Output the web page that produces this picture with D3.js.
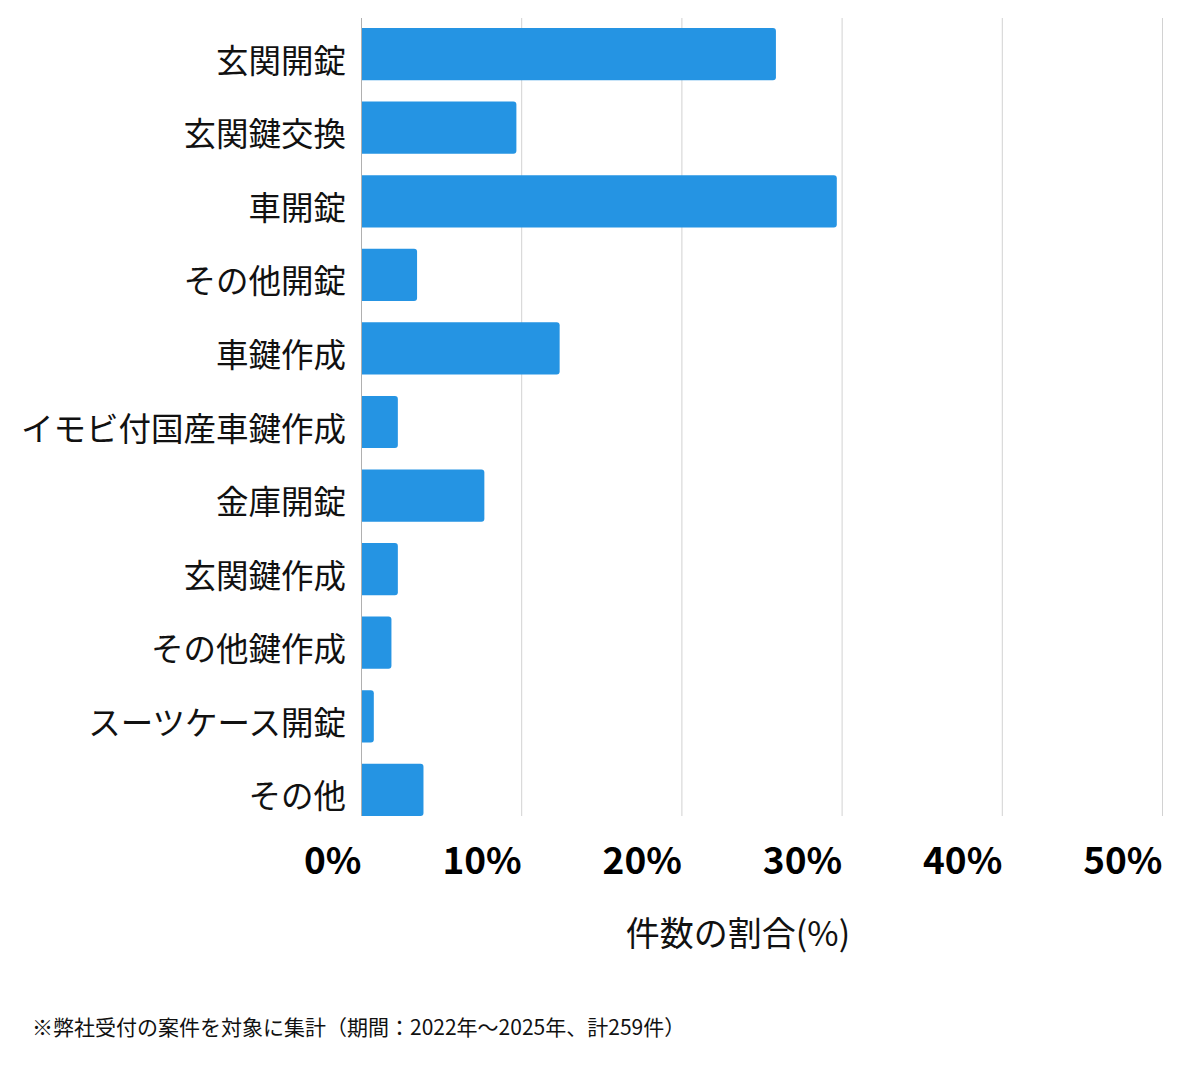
<!DOCTYPE html>
<html lang="ja">
<head>
    <meta charset="utf-8" />
    <title> 件数の割合 </title>
    <script src="https://cdn.jsdelivr.net/npm/d3@7"></script>
    <style>
        body { margin: 0px; background: #fff; }
        svg text { font-family: "Noto Sans CJK JP", "Noto Sans", sans-serif; }
    </style>
</head>
<body>

<div id="main-window">
    <svg class="chart" width="1200" height="1069"></svg>
</div>

<script>

    // 項目
    var categories = ['玄関開錠', '玄関鍵交換', '車開錠', 'その他開錠', '車鍵作成',
        'イモビ付国産車鍵作成', '金庫開錠', '玄関鍵作成', 'その他鍵作成', 'スーツケース開錠', 'その他'];

    // 件数の割合(%)
    var shares = [25.9, 9.7, 29.7, 3.5, 12.4, 2.3, 7.7, 2.3, 1.9, 0.8, 3.9];

    var tick_values = [0, 10, 20, 30, 40, 50];

    var axis_title = '件数の割合(%)';
    var footnote = '※弊社受付の案件を対象に集計（期間：2022年～2025年、計259件）';

    function main() {

        var svg = d3.select('#main-window .chart');

        var left = 361, right = 1162, top = 18, bottom = 816;

        var x = d3.scaleLinear()
                .domain([0, 50])
                .range([left, right]);

        var y = d3.scaleBand()
                .domain(categories)
                .range([top, bottom])
                .paddingInner(0.29)
                .paddingOuter(0.068)
                .align(1);

        //グリッド線
        svg.append('g')
                .attr('class', 'grid')
                .selectAll('line')
                .data(tick_values.slice(1))
                .enter().append('line')
                .attr('x1', function(d) { return x(d) + 0.5; })
                .attr('x2', function(d) { return x(d) + 0.5; })
                .attr('y1', top)
                .attr('y2', bottom)
                .style('stroke', '#d2d2d2')
                .style('stroke-width', 1);

        //棒 (右側の角だけ丸める)
        var r = 3;
        svg.append('g')
                .attr('class', 'bars')
                .selectAll('path')
                .data(shares)
                .enter().append('path')
                .attr('d', function(d, i) {
                    var x0 = x(0), x1 = x(d);
                    var y0 = y(categories[i]), h = y.bandwidth();
                    var rr = Math.min(r, (x1 - x0) / 2);
                    return 'M' + x0 + ',' + y0 +
                            'H' + (x1 - rr) +
                            'Q' + x1 + ',' + y0 + ' ' + x1 + ',' + (y0 + rr) +
                            'V' + (y0 + h - rr) +
                            'Q' + x1 + ',' + (y0 + h) + ' ' + (x1 - rr) + ',' + (y0 + h) +
                            'H' + x0 + 'Z';
                })
                .style('fill', '#2594e3');

        //縦軸
        svg.append('line')
                .attr('x1', left + 0.5)
                .attr('x2', left + 0.5)
                .attr('y1', top)
                .attr('y2', bottom)
                .style('stroke', '#b0b0b0');

        //項目ラベル
        var y_axis = svg.append('g')
                .attr('transform', 'translate(' + (left - 15) + ',0)')
                .call(d3.axisLeft(y).tickSize(0).tickPadding(0));
        y_axis.select('.domain').remove();
        y_axis.selectAll('text')
                .attr('dy', '0.57em')
                .style('font-size', '32.5px')
                .style('fill', '#111');

        //目盛りラベル
        var x_axis = svg.append('g')
                .attr('transform', 'translate(0,' + bottom + ')')
                .call(d3.axisBottom(x)
                        .tickValues(tick_values)
                        .tickSize(0)
                        .tickFormat(function(d) { return d + '%'; }));
        x_axis.select('.domain').remove();
        x_axis.selectAll('text')
                .attr('y', 58)
                .attr('dy', 0)
                .attr('text-anchor', 'end')
                .style('font-size', '37px')
                .style('font-weight', 'bold')
                .style('fill', '#000');

        //軸タイトル
        svg.append('text')
                .attr('x', 738)
                .attr('y', 946)
                .attr('text-anchor', 'middle')
                .style('font-size', '34px')
                .style('fill', '#111')
                .text(axis_title);

        //注記
        svg.append('text')
                .attr('x', 32)
                .attr('y', 1035)
                .style('font-size', '21px')
                .style('fill', '#111')
                .text(footnote);
    }

    main();

</script>

</body>
</html>
